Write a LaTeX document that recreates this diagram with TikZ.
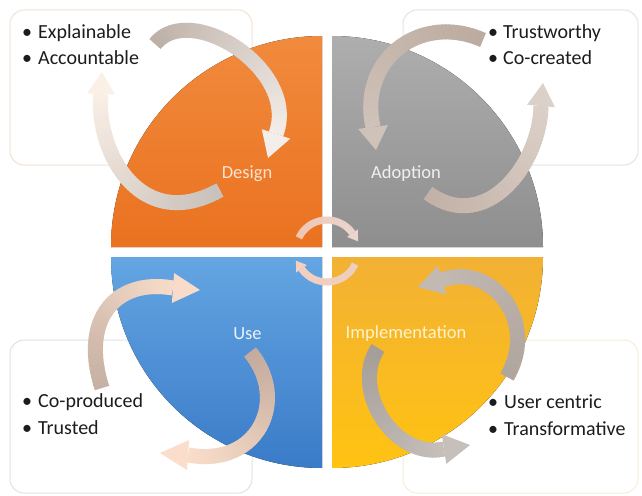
\documentclass[tikz,border=0pt]{standalone}
\usepackage{fontspec}
\setmainfont{Carlito}
\definecolor{boxTL}{HTML}{F2E2D5}
\definecolor{boxTR}{HTML}{E4E4E4}
\definecolor{boxBL}{HTML}{E2E2E2}
\definecolor{boxBR}{HTML}{F7EEDA}
\definecolor{txt}{HTML}{1C1C1C}
\definecolor{orTop}{RGB}{241,138,61}\definecolor{orBot}{RGB}{234,114,32}
\definecolor{grTop}{RGB}{174,174,174}\definecolor{grBot}{RGB}{142,142,142}
\definecolor{blTop}{RGB}{100,165,226}\definecolor{blBot}{RGB}{58,123,200}
\definecolor{yeTop}{RGB}{242,177,52}\definecolor{yeBot}{RGB}{255,195,18}
\definecolor{tlAa}{RGB}{188,176,167}\definecolor{tlAb}{RGB}{244,238,234}
\definecolor{tlBa}{RGB}{201,193,187}\definecolor{tlBb}{RGB}{251,240,230}
\definecolor{trAa}{RGB}{188,171,159}\definecolor{trAb}{RGB}{207,194,185}
\definecolor{trBa}{RGB}{194,177,166}\definecolor{trBb}{RGB}{220,209,201}
\definecolor{blAa}{RGB}{198,177,164}\definecolor{blAb}{RGB}{248,220,201}
\definecolor{blBa}{RGB}{196,171,157}\definecolor{blBb}{RGB}{250,222,203}
\definecolor{brAa}{RGB}{177,166,158}\definecolor{brAb}{RGB}{194,185,179}
\definecolor{brBa}{RGB}{165,157,151}\definecolor{brBb}{RGB}{198,191,186}
\definecolor{ctAa}{RGB}{241,198,177}\definecolor{ctAb}{RGB}{234,214,206}
\definecolor{ctBa}{RGB}{238,206,192}\definecolor{ctBb}{RGB}{243,208,192}
\definecolor{lbDes}{RGB}{252,226,210}\definecolor{lbAdo}{RGB}{240,240,240}
\definecolor{lbUse}{RGB}{232,241,251}\definecolor{lbImp}{RGB}{255,242,205}
\def\bzset#1/#2/#3/#4/#5/#6/#7/#8\relax{\def\bzAx{#1}\def\bzAy{#2}\def\bzBx{#3}\def\bzBy{#4}\def\bzCx{#5}\def\bzCy{#6}\def\bzDx{#7}\def\bzDy{#8}}
\def\bztip#1/#2\relax{\def\bzTx{#1}\def\bzTy{#2}}
% #1 tail colour, #2 head colour, #3 cubic control points x0/y0/x1/y1/x2/y2/x3/y3 (x3/y3 = head base),
% #4 tip x/y, #5 band width (pt), #6 head half width
\newcommand{\bandarrow}[6]{%
  \bzset#3\relax
  \bztip#4\relax
  \foreach \i in {0,...,49} {%
    \pgfmathsetmacro\ta{\i/50}%
    \pgfmathsetmacro\tb{min(1,(\i+1.3)/50)}%
    \pgfmathsetmacro\xa{(1-\ta)^3*\bzAx+3*(1-\ta)^2*\ta*\bzBx+3*(1-\ta)*\ta^2*\bzCx+\ta^3*\bzDx}%
    \pgfmathsetmacro\ya{(1-\ta)^3*\bzAy+3*(1-\ta)^2*\ta*\bzBy+3*(1-\ta)*\ta^2*\bzCy+\ta^3*\bzDy}%
    \pgfmathsetmacro\xb{(1-\tb)^3*\bzAx+3*(1-\tb)^2*\tb*\bzBx+3*(1-\tb)*\tb^2*\bzCx+\tb^3*\bzDx}%
    \pgfmathsetmacro\yb{(1-\tb)^3*\bzAy+3*(1-\tb)^2*\tb*\bzBy+3*(1-\tb)*\tb^2*\bzCy+\tb^3*\bzDy}%
    \pgfmathtruncatemacro\pc{100-2*\i}%
    \draw[line width=#5pt, color=#1!\pc!#2] (\xa,\ya) -- (\xb,\yb);%
  }%
  \pgfmathsetmacro\ux{\bzTx-\bzDx}%
  \pgfmathsetmacro\uy{\bzTy-\bzDy}%
  \pgfmathsetmacro\ul{veclen(\ux,\uy)}%
  \pgfmathsetmacro\cax{\bzDx-\uy/\ul*#6}%
  \pgfmathsetmacro\cay{\bzDy+\ux/\ul*#6}%
  \pgfmathsetmacro\cbx{\bzDx+\uy/\ul*#6}%
  \pgfmathsetmacro\cby{\bzDy-\ux/\ul*#6}%
  \fill[color=#2] (\bzTx,\bzTy) -- (\cax,\cay) -- (\cbx,\cby) -- cycle;%
}
\tikzset{
  infobox/.style={line width=1pt, rounded corners=14pt, fill=white},
  phase/.style={font=\fontsize{18.5}{20}\selectfont, anchor=base},
  bullet/.style={font=\fontsize{20}{22}\selectfont, text=txt, anchor=base west, inner sep=0pt},
}
\begin{document}
\begin{tikzpicture}[x=1pt,y=-1pt]
\useasboundingbox (0,0) rectangle (642,495);
\fill[white] (0,0) rectangle (642,495);
% boxes
\draw[infobox, draw=boxTL] (10,10) rectangle (252,165);
\draw[infobox, draw=boxTR] (403,10) rectangle (638,165);
\draw[infobox, draw=boxBL] (10,340) rectangle (252,493);
\draw[infobox, draw=boxBR] (403,340) rectangle (638,493);
% quadrants
\fill[top color=orTop, bottom color=orBot]
  (322,247) -- (111,247) arc[start angle=180, end angle=270, radius=211] -- cycle;
\fill[top color=grTop, bottom color=grBot]
  (332,247) -- (332,36) arc[start angle=270, end angle=360, radius=211] -- cycle;
\fill[top color=blTop, bottom color=blBot]
  (322,257) -- (322,468) arc[start angle=90, end angle=180, radius=211] -- cycle;
\fill[top color=yeTop, bottom color=yeBot]
  (332,257) -- (543,257) arc[start angle=0, end angle=90, radius=211] -- cycle;
% cycle arrows
\bandarrow{tlAa}{tlAb}{155/44/190/0/300/70/276/134}{268/158}{15}{15}
\bandarrow{tlBa}{tlBb}{220/190/140/235/95/150/101/94}{102/72}{15}{14}
\bandarrow{trAa}{trAb}{483/40/420/12/358/60/373/127}{376/150}{15}{15}
\bandarrow{trBa}{trBb}{428/193/485/235/540/165/541/106}{543/83}{15}{14}
\bandarrow{blAa}{blAb}{102/388/80/320/115/278/173/288}{200/290}{15}{15}
\bandarrow{blBa}{blBb}{250/352/290/400/258/468/188/455}{160/453}{15}{15}
\bandarrow{brAa}{brAb}{507/377/540/320/490/262/442/280}{418/287}{15}{15}
\bandarrow{brBa}{brBb}{378/348/350/390/395/460/444/449}{470/445}{15}{15}
% centre arrows
\bandarrow{ctAa}{ctAb}{298.9/237.9/309.0/216.3/338.7/213.7/352.4/233.2}{358.1/241.4}{7}{6.5}
\bandarrow{ctBa}{ctBb}{355.1/264.1/345.0/285.7/315.3/288.3/301.6/268.8}{295.9/260.6}{7}{6.5}
% phase labels
\node[phase, text=lbDes] (design) at (247,178) {Design};
\node[phase, text=lbAdo] (adoption) at (406,178) {Adoption};
\node[phase, text=lbUse] (use) at (247.5,339) {Use};
\node[phase, text=lbImp] (impl) at (406,338) {Implementation};
% bullets
\node[bullet] (b1) at (22,38) {•};  \node[bullet] (t1) at (38,38) {Explainable};
\node[bullet] (b2) at (22,65) {•};  \node[bullet] (t2) at (38,65) {Accountable};
\node[bullet] (b3) at (488,38) {•}; \node[bullet] (t3) at (503,38) {Trustworthy};
\node[bullet] (b4) at (488,65) {•}; \node[bullet] (t4) at (503,65) {Co-created};
\node[bullet] (b5) at (22,407) {•}; \node[bullet] (t5) at (38,407) {Co-produced};
\node[bullet] (b6) at (22,434) {•}; \node[bullet] (t6) at (38,434) {Trusted};
\node[bullet] (b7) at (488,408) {•}; \node[bullet] (t7) at (504,408) {User centric};
\node[bullet] (b8) at (488,435) {•}; \node[bullet] (t8) at (504,435) {Transformative};
\end{tikzpicture}
\end{document}
